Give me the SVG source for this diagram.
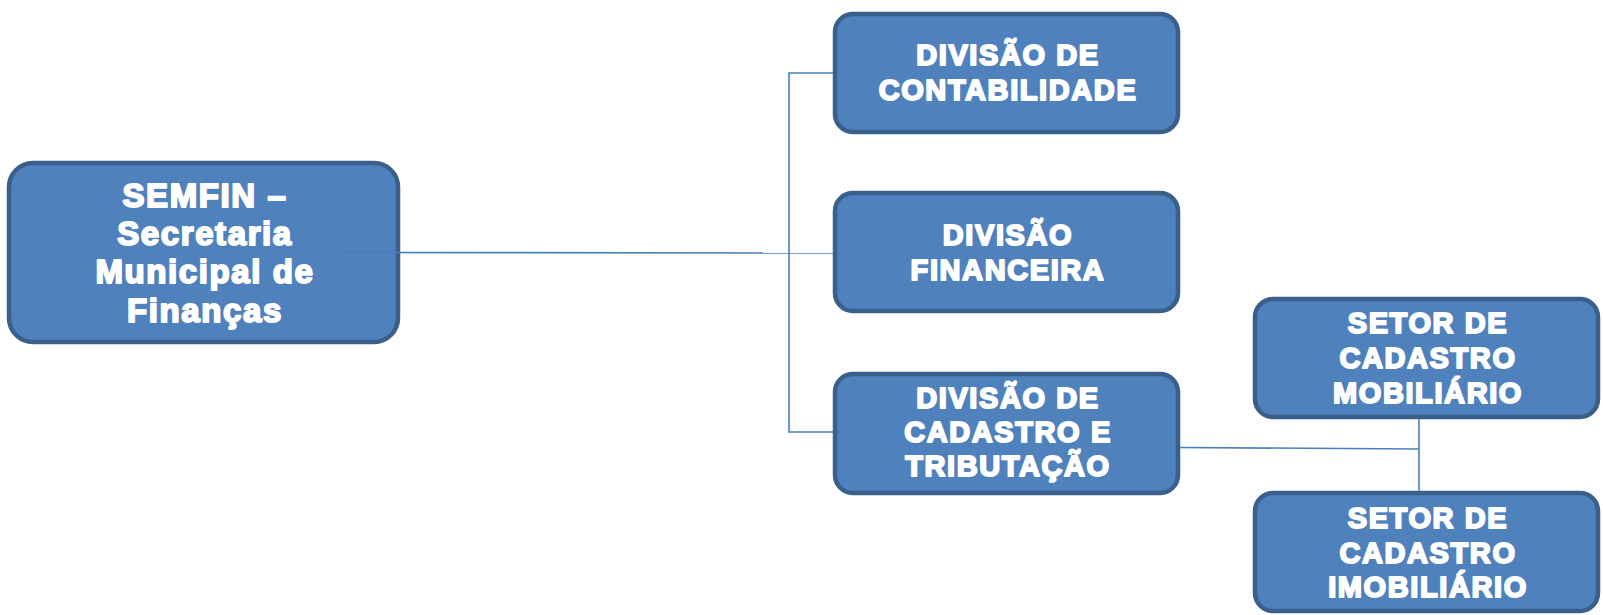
<svg xmlns="http://www.w3.org/2000/svg" width="1603" height="615" viewBox="0 0 1603 615">
<style>
.box{fill:#4f81bd;stroke:#3a5f8b;stroke-width:4.5}
.t{font-family:"Liberation Sans",Arial,sans-serif;font-weight:bold;fill:#ffffff;stroke:#ffffff;stroke-width:1.9;stroke-linejoin:round;text-anchor:middle;font-size:29px;letter-spacing:1.6px}
.big{font-size:33px}
.c{fill:none;stroke:#4a7ebb;stroke-width:1.6}
</style>
<rect width="1603" height="615" fill="#ffffff"/>
<g id="n-semfin">
<rect class="box" x="9" y="163" width="389" height="179" rx="24"/>
<text class="t big" x="205" y="207">SEMFIN –</text>
<text class="t big" x="205" y="245">Secretaria</text>
<text class="t big" x="205" y="283">Municipal de</text>
<text class="t big" x="205" y="322">Finanças</text>
</g>
<g id="n-contabilidade">
<rect class="box" x="835" y="14" width="343" height="118" rx="18"/>
<text class="t" x="1008" y="65">DIVISÃO DE</text>
<text class="t" x="1008" y="100">CONTABILIDADE</text>
</g>
<g id="n-financeira">
<rect class="box" x="835" y="193" width="343" height="118" rx="18"/>
<text class="t" x="1008" y="245">DIVISÃO</text>
<text class="t" x="1008" y="280">FINANCEIRA</text>
</g>
<g id="n-cadastro">
<rect class="box" x="835" y="374" width="343" height="119" rx="18"/>
<text class="t" x="1008" y="408">DIVISÃO DE</text>
<text class="t" x="1008" y="442">CADASTRO E</text>
<text class="t" x="1008" y="476">TRIBUTAÇÃO</text>
</g>
<g id="n-mobiliario">
<rect class="box" x="1255" y="299" width="343" height="118" rx="18"/>
<text class="t" x="1428" y="333">SETOR DE</text>
<text class="t" x="1428" y="368">CADASTRO</text>
<text class="t" x="1428" y="403">MOBILIÁRIO</text>
</g>
<g id="n-imobiliario">
<rect class="box" x="1255" y="493" width="343" height="118" rx="18"/>
<text class="t" x="1428" y="528">SETOR DE</text>
<text class="t" x="1428" y="563">CADASTRO</text>
<text class="t" x="1428" y="597">IMOBILIÁRIO</text>
</g>
<g id="connectors">
<path class="c" d="M337 252.5 L833 253"/>
<path class="c" d="M833 73 L789 73 L789 432 L833 432"/>
<path class="c" d="M1180 447.5 L1419 449"/>
<path class="c" d="M1419 419 L1419 491"/>
</g>
</svg>
